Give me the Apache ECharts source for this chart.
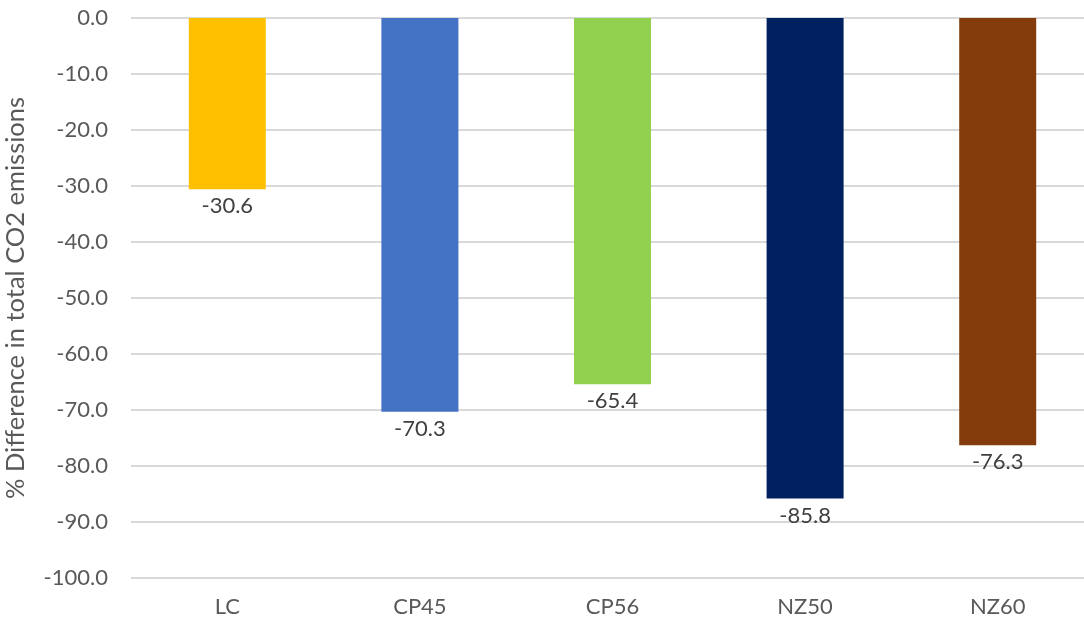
<!DOCTYPE html>
<html>
<head>
<meta charset="utf-8">
<script src="https://cdn.jsdelivr.net/npm/echarts@6/dist/echarts.min.js"></script>
<style>
  html, body { margin: 0; padding: 0; background: #fff; }
  #chart { width: 1084px; height: 625px; }
</style>
</head>
<body>
<div id="chart"></div>
<script>
// Scenario categories and the change in total CO2 emissions (%)
const categories = ['LC', 'CP45', 'CP56', 'NZ50', 'NZ60'];
const values = [-30.6, -70.3, -65.4, -85.8, -76.3];
const barColors = ['#FFC000', '#4472C4', '#92D050', '#002060', '#843C0C'];
const yAxisTitle = '% Difference in total CO2 emissions';

const FONT = 'Lato, "Open Sans", sans-serif';

const chart = echarts.init(document.getElementById('chart'));
chart.setOption({
  backgroundColor: '#ffffff',
  animation: false,
  // the plot runs slightly past the right edge of the canvas
  grid: {
    left: 131, width: 963, top: 18, height: 560,
    containLabel: false, outerBoundsMode: 'none'
  },
  xAxis: {
    type: 'category',
    data: categories,
    position: 'bottom',
    axisLine: { show: false },
    axisTick: { show: false },
    axisLabel: { color: '#595959', fontSize: 22, fontFamily: FONT, margin: 18 }
  },
  yAxis: {
    type: 'value',
    min: -100,
    max: 0,
    interval: 10,
    name: yAxisTitle,
    nameLocation: 'middle',
    nameGap: 102,
    nameRotate: 90,
    nameTextStyle: { color: '#595959', fontSize: 25.5, fontFamily: FONT },
    axisLine: { show: false },
    axisTick: { show: false },
    axisLabel: {
      color: '#595959', fontSize: 22, fontFamily: FONT, margin: 23,
      formatter: v => v.toFixed(1)
    },
    splitLine: { lineStyle: { color: '#d9d9d9', width: 2 } }
  },
  series: [{
    type: 'bar',
    barWidth: 77,
    data: values.map((v, i) => ({ value: v, itemStyle: { color: barColors[i] } })),
    label: {
      show: true,
      position: 'bottom',
      distance: 6,
      color: '#404040',
      fontSize: 22,
      fontFamily: FONT,
      formatter: p => p.value.toFixed(1)
    }
  }]
});
</script>
</body>
</html>
